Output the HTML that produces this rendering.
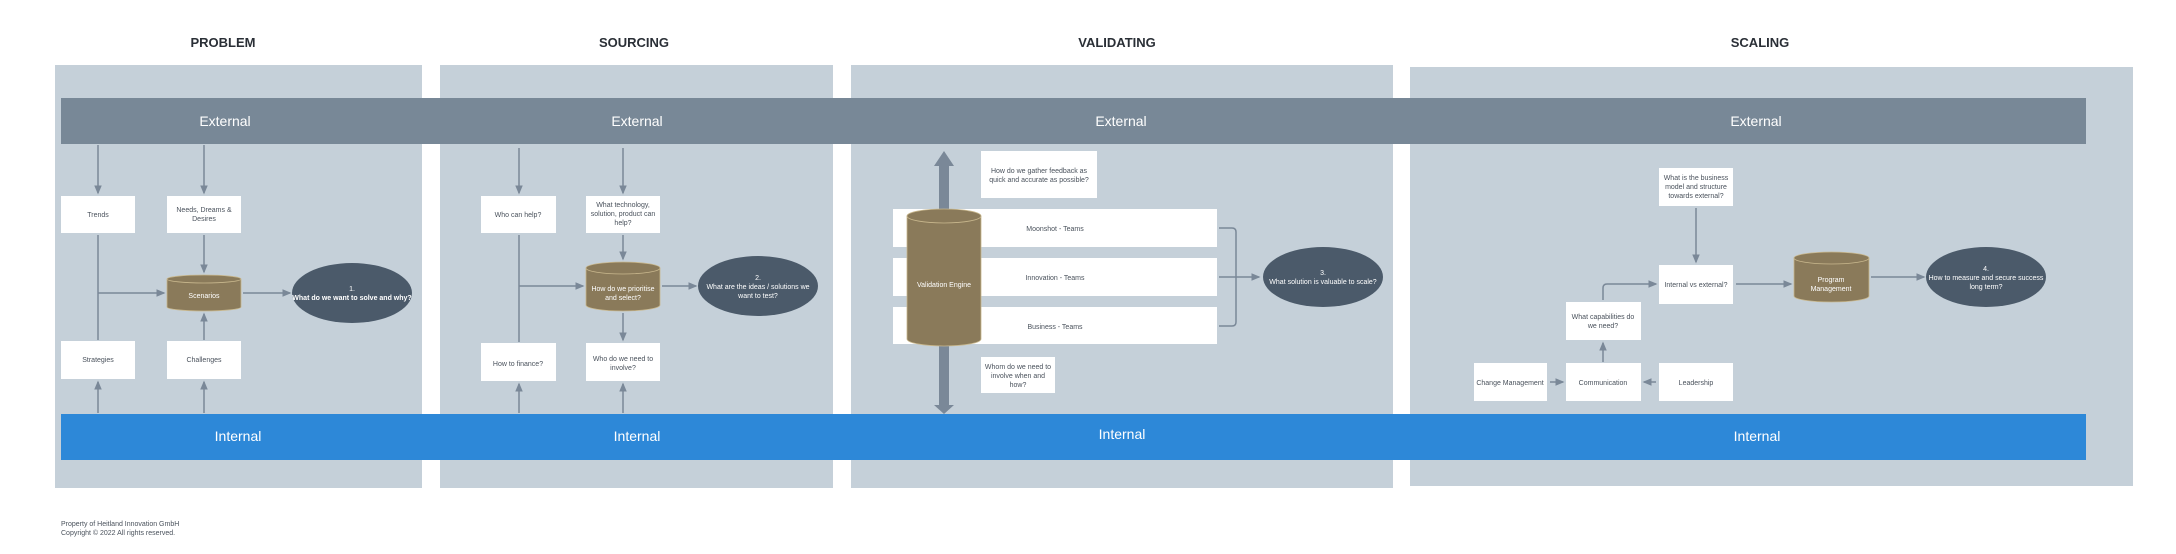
<!DOCTYPE html>
<html><head><meta charset="utf-8"><style>
html,body{margin:0;padding:0;background:#fff;width:2176px;height:554px;overflow:hidden}
svg text{font-family:"Liberation Sans",sans-serif}
.n{font-size:7px;fill:#4a525c}
.w{font-size:7px;fill:#fff}
.bar{font-size:14px;fill:#fff}
.t{font-size:13px;font-weight:bold;fill:#2a2f36}
</style></head><body>
<svg width="2176" height="554" viewBox="0 0 2176 554" xmlns="http://www.w3.org/2000/svg">
<defs>
<marker id="a" viewBox="0 0 6 6" refX="5" refY="3" markerWidth="6" markerHeight="6" orient="auto"><path d="M0,0.5 L6,3 L0,5.5z" fill="#7a8898"/></marker>
</defs>
<!-- titles -->
<text class="t" x="223" y="47" text-anchor="middle">PROBLEM</text>
<text class="t" x="634" y="47" text-anchor="middle">SOURCING</text>
<text class="t" x="1117" y="47" text-anchor="middle">VALIDATING</text>
<text class="t" x="1760" y="47" text-anchor="middle">SCALING</text>
<!-- panels -->
<rect x="55" y="65" width="367" height="423" fill="#c5d0d9"/>
<rect x="440" y="65" width="393" height="423" fill="#c5d0d9"/>
<rect x="851" y="65" width="542" height="423" fill="#c5d0d9"/>
<rect x="1410" y="67" width="723" height="419" fill="#c5d0d9"/>
<!-- bars -->
<rect x="61" y="98" width="2025" height="46" fill="#788897"/>
<rect x="61" y="414" width="2025" height="46" fill="#2d88d8"/>
<text class="bar" x="225" y="126" text-anchor="middle">External</text>
<text class="bar" x="637" y="126" text-anchor="middle">External</text>
<text class="bar" x="1121" y="126" text-anchor="middle">External</text>
<text class="bar" x="1756" y="126" text-anchor="middle">External</text>
<text class="bar" x="238" y="441" text-anchor="middle">Internal</text>
<text class="bar" x="637" y="441" text-anchor="middle">Internal</text>
<text class="bar" x="1122" y="439" text-anchor="middle">Internal</text>
<text class="bar" x="1757" y="441" text-anchor="middle">Internal</text>

<g stroke="#7a8898" stroke-width="1.5" fill="none">
<!-- problem -->
<line x1="98" y1="145" x2="98" y2="193" marker-end="url(#a)"/>
<line x1="204" y1="145" x2="204" y2="193" marker-end="url(#a)"/>
<line x1="98" y1="235" x2="98" y2="340"/>
<path d="M98,293 L164,293" marker-end="url(#a)"/>
<line x1="204" y1="235" x2="204" y2="272" marker-end="url(#a)"/>
<line x1="204" y1="340" x2="204" y2="314" marker-end="url(#a)"/>
<line x1="243" y1="293" x2="290" y2="293" marker-end="url(#a)"/>
<line x1="98" y1="413" x2="98" y2="382" marker-end="url(#a)"/>
<line x1="204" y1="413" x2="204" y2="382" marker-end="url(#a)"/>
<!-- sourcing -->
<line x1="519" y1="148" x2="519" y2="193" marker-end="url(#a)"/>
<line x1="623" y1="148" x2="623" y2="193" marker-end="url(#a)"/>
<line x1="519" y1="235" x2="519" y2="342"/>
<path d="M519,286 L583,286" marker-end="url(#a)"/>
<line x1="623" y1="235" x2="623" y2="259" marker-end="url(#a)"/>
<line x1="623" y1="313" x2="623" y2="340" marker-end="url(#a)"/>
<line x1="662" y1="286" x2="696" y2="286" marker-end="url(#a)"/>
<line x1="519" y1="413" x2="519" y2="384" marker-end="url(#a)"/>
<line x1="623" y1="413" x2="623" y2="384" marker-end="url(#a)"/>
<!-- validating bracket -->
<path d="M1219,228 H1232 Q1236,228 1236,232 V322 Q1236,326 1232,326 H1219"/>
<line x1="1219" y1="277" x2="1259" y2="277" marker-end="url(#a)"/>
<!-- scaling -->
<line x1="1696" y1="208" x2="1696" y2="262" marker-end="url(#a)"/>
<path d="M1603,300 V288 Q1603,284 1607,284 H1656" marker-end="url(#a)"/>
<line x1="1603" y1="362" x2="1603" y2="343" marker-end="url(#a)"/>
<line x1="1550" y1="382" x2="1563" y2="382" marker-end="url(#a)"/>
<line x1="1656" y1="382" x2="1644" y2="382" marker-end="url(#a)"/>
<line x1="1736" y1="284" x2="1791" y2="284" marker-end="url(#a)"/>
<line x1="1871" y1="277" x2="1924" y2="277" marker-end="url(#a)"/>
</g>

<!-- validating big arrow -->
<rect x="939" y="160" width="10" height="245" fill="#7a8898"/>
<path d="M934,166 L944,151 L954,166z M934,405 L944,414 L954,405z" fill="#7a8898"/>

<!-- white boxes -->
<g fill="#fff">
<rect x="61" y="196" width="74" height="37"/>
<rect x="167" y="196" width="74" height="37"/>
<rect x="61" y="341" width="74" height="38"/>
<rect x="167" y="341" width="74" height="38"/>
<rect x="481" y="196" width="75" height="37"/>
<rect x="586" y="196" width="74" height="37"/>
<rect x="481" y="343" width="75" height="38"/>
<rect x="586" y="343" width="74" height="38"/>
<rect x="981" y="151" width="116" height="47"/>
<rect x="893" y="209" width="324" height="38"/>
<rect x="893" y="258" width="324" height="38"/>
<rect x="893" y="307" width="324" height="37"/>
<rect x="981" y="357" width="74" height="36"/>
<rect x="1659" y="168" width="74" height="38"/>
<rect x="1659" y="265" width="74" height="39"/>
<rect x="1566" y="302" width="75" height="38"/>
<rect x="1474" y="363" width="73" height="38"/>
<rect x="1566" y="363" width="75" height="38"/>
<rect x="1659" y="363" width="74" height="38"/>
</g>

<!-- cylinders -->
<g fill="#8a7a5a" stroke="#c9b88e" stroke-width="0.8">
<path d="M167,279 V307 A37,4 0 0 0 241,307 V279"/>
<ellipse cx="204" cy="279" rx="37" ry="4"/>
<path d="M586,268 V305 A37,6 0 0 0 660,305 V268"/>
<ellipse cx="623" cy="268" rx="37" ry="6"/>
<path d="M907,216 V339 A37,7 0 0 0 981,339 V216"/>
<ellipse cx="944" cy="216" rx="37" ry="7"/>
<path d="M1794,258 V296 A37.5,6 0 0 0 1869,296 V258"/>
<ellipse cx="1831.5" cy="258" rx="37.5" ry="6"/>
</g>

<!-- ellipses -->
<g fill="#4b5a6a">
<ellipse cx="352" cy="293" rx="60" ry="30"/>
<ellipse cx="758" cy="286" rx="60" ry="30"/>
<ellipse cx="1323" cy="277" rx="60" ry="30"/>
<ellipse cx="1986" cy="277" rx="60" ry="30"/>
</g>

<!-- texts -->
<g text-anchor="middle">
<text class="n" x="98" y="217">Trends</text>
<text class="n" x="204" y="212">Needs, Dreams &amp;</text><text class="n" x="204" y="221">Desires</text>
<text class="n" x="98" y="362">Strategies</text>
<text class="n" x="204" y="362">Challenges</text>
<text class="w" x="204" y="298" fill="#e8dcc0">Scenarios</text>
<text class="w" x="352" y="291">1.</text>
<text class="w" x="352" y="300" font-weight="bold">What do we want to solve and why?</text>

<text class="n" x="518" y="217">Who can help?</text>
<text class="n" x="623" y="207">What technology,</text><text class="n" x="623" y="216">solution, product can</text><text class="n" x="623" y="225">help?</text>
<text class="n" x="518" y="366">How to finance?</text>
<text class="n" x="623" y="361">Who do we need to</text><text class="n" x="623" y="370">involve?</text>
<text class="w" x="623" y="291">How do we prioritise</text><text class="w" x="623" y="300">and select?</text>
<text class="w" x="758" y="280">2.</text>
<text class="w" x="758" y="289">What are the ideas / solutions we</text><text class="w" x="758" y="298">want to test?</text>

<text class="n" x="1039" y="173">How do we gather feedback as</text><text class="n" x="1039" y="182">quick and accurate as possible?</text>
<text class="n" x="1055" y="231">Moonshot - Teams</text>
<text class="n" x="1055" y="280">Innovation - Teams</text>
<text class="n" x="1055" y="329">Business - Teams</text>
<text class="n" x="1018" y="369">Whom do we need to</text><text class="n" x="1018" y="378">involve when and</text><text class="n" x="1018" y="387">how?</text>
<text class="w" x="944" y="287" fill="#e8dcc0">Validation Engine</text>
<text class="w" x="1323" y="275">3.</text>
<text class="w" x="1323" y="284">What solution is valuable to scale?</text>

<text class="n" x="1696" y="180">What is the business</text><text class="n" x="1696" y="189">model and structure</text><text class="n" x="1696" y="198">towards external?</text>
<text class="n" x="1696" y="287">Internal vs external?</text>
<text class="n" x="1603" y="319">What capabilities do</text><text class="n" x="1603" y="328">we need?</text>
<text class="n" x="1510" y="385">Change Management</text>
<text class="n" x="1603" y="385">Communication</text>
<text class="n" x="1696" y="385">Leadership</text>
<text class="w" x="1831" y="282" fill="#e8dcc0">Program</text><text class="w" x="1831" y="291" fill="#e8dcc0">Management</text>
<text class="w" x="1986" y="271">4.</text>
<text class="w" x="1986" y="280">How to measure and secure success</text><text class="w" x="1986" y="289">long term?</text>
</g>
<text x="61" y="526" font-size="7" fill="#4a525c">Property of Heitland Innovation GmbH</text>
<text x="61" y="535" font-size="7" fill="#4a525c">Copyright © 2022 All rights reserved.</text>
</svg>
</body></html>
